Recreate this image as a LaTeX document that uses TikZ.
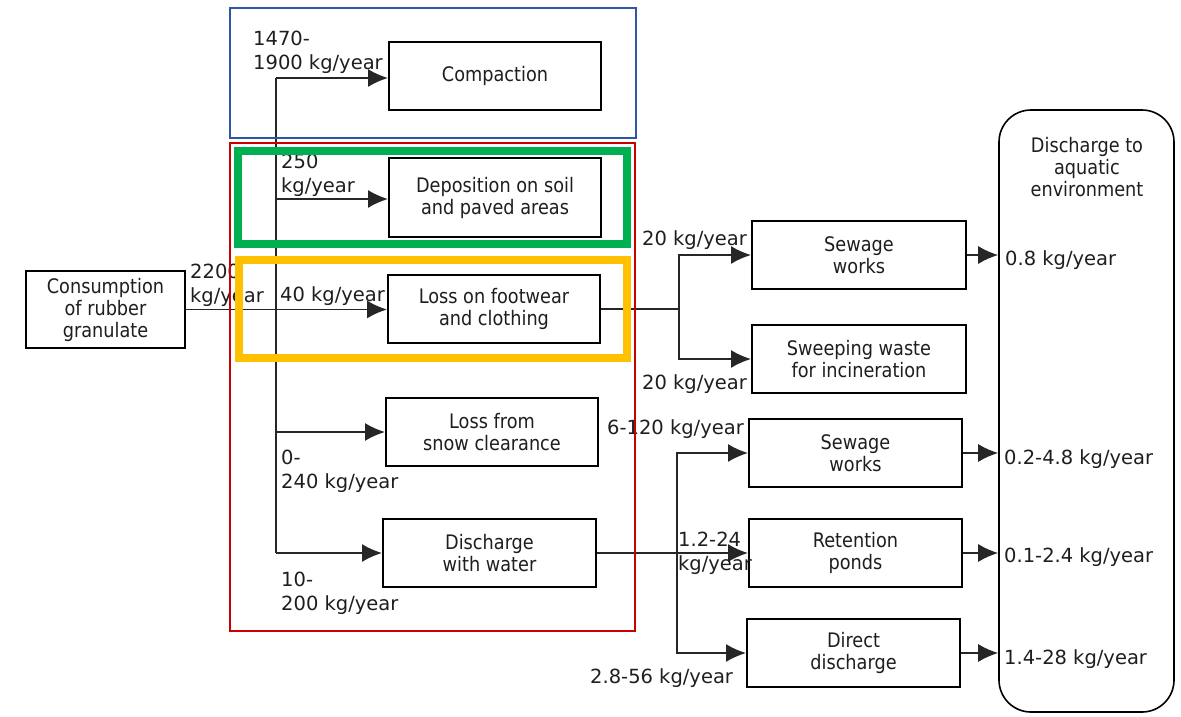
\documentclass[tikz,border=0pt]{standalone}
\usepackage{fontspec}
\setmainfont{DejaVu Sans}
\newfontfamily\bxfam{DejaVu Sans}[FakeStretch=0.885]
\usetikzlibrary{arrows.meta}
\definecolor{txt}{HTML}{1E1E1E}
\definecolor{fblue}{RGB}{47,85,165}
\definecolor{fred}{RGB}{200,0,0}
\definecolor{fgreen}{RGB}{0,176,80}
\definecolor{forange}{RGB}{255,192,0}
\newcommand\bxfont{\bxfam\fontsize{20}{22}\selectfont}
\newcommand\lbfont{\fontsize{19.5}{24}\selectfont}
\tikzset{
  box/.style={draw=black, line width=2pt, fill=white, align=center, inner sep=0pt, font=\bxfont, text=txt},
  lbl/.style={anchor=west, align=left, inner sep=0pt, font=\lbfont, text=txt},
  conn/.style={line width=1.7pt, draw=black!85},
  arr/.style={conn, -{Latex[length=20pt,width=18pt]}},
  thinframe/.style={line width=2pt},
  thickframe/.style={line width=8pt},
}
\begin{document}
\begin{tikzpicture}[x=1pt,y=-1pt]
\useasboundingbox (0,0) rectangle (1181,716);
% boxes
\node[box, minimum width=159pt, minimum height=77pt] (cons) at (105.5,309.5) {Consumption\\of rubber\\granulate};
\node[box, minimum width=212pt, minimum height=68pt] (comp) at (495,76) {Compaction};
\node[box, minimum width=212pt, minimum height=79pt] (depo) at (495,197.5) {Deposition on soil\\and paved areas};
\node[box, minimum width=212pt, minimum height=68pt] (foot) at (494,309) {Loss on footwear\\and clothing};
\node[box, minimum width=212pt, minimum height=68pt] (snow) at (492,432) {Loss from\\snow clearance};
\node[box, minimum width=213pt, minimum height=68pt] (water) at (489.5,553) {Discharge\\with water};
\node[box, minimum width=214pt, minimum height=68pt] (sew1) at (859,255) {Sewage\\works};
\node[box, minimum width=214pt, minimum height=68pt] (sweep) at (859,359) {Sweeping waste\\for incineration};
\node[box, minimum width=213pt, minimum height=68pt] (sew2) at (855.5,453) {Sewage\\works};
\node[box, minimum width=213pt, minimum height=68pt] (ret) at (855.5,553) {Retention\\ponds};
\node[box, minimum width=213pt, minimum height=68pt] (dir) at (853.5,653) {Direct\\discharge};
\node[draw=black, line width=1.6pt, rounded corners=32pt, minimum width=175pt, minimum height=602pt, inner sep=0pt] (env) at (1086.5,411) {};
\node[font=\bxfont, text=txt, align=center, inner sep=0pt] (envtxt) at (1087,167) {Discharge to\\aquatic\\environment};
% connectors
\coordinate (tTop) at (276,78);
\coordinate (tBot) at (276,553);
\draw[conn] (tTop) -- (tBot);
\draw[arr] (tTop) -- (tTop -| comp.west);
\draw[arr] (276,199) coordinate (tD) -- (tD -| depo.west);
\draw[arr] (cons.east) -- (cons.east -| foot.west);
\draw[arr] (276,432) coordinate (tS) -- (tS -| snow.west);
\draw[arr] (tBot) -- (tBot -| water.west);
\coordinate (j1) at (679,309);
\draw[conn] (foot.east) -- (j1);
\draw[arr] (j1) |- (sew1.west);
\draw[arr] (j1) |- (sweep.west);
\coordinate (j2) at (677,553);
\draw[arr] (water.east) -- (water.east -| ret.west);
\draw[arr] (j2) |- (sew2.west);
\draw[arr] (j2) |- (dir.west);
\draw[arr] (sew1.east) -- (sew1.east -| env.west);
\draw[arr] (sew2.east) -- (sew2.east -| env.west);
\draw[arr] (ret.east) -- (ret.east -| env.west);
\draw[arr] (dir.east) -- (dir.east -| env.west);
% labels
\node[lbl] (l1) at (253,52) {1470-\\1900 kg/year};
\node[lbl] (l2) at (281,175) {250\\kg/year};
\node[lbl] (l3) at (190,285) {2200\\kg/year};
\node[lbl] (l4) at (280,296) {40 kg/year};
\node[lbl] (l5) at (642,240) {20 kg/year};
\node[lbl] (l6) at (642,384) {20 kg/year};
\node[lbl] (l7) at (607,429) {6-120 kg/year};
\node[lbl] (l8) at (281,471) {0-\\240 kg/year};
\node[lbl] (l9) at (281,593) {10-\\200 kg/year};
\node[lbl] (l10) at (678,553) {1.2-24\\kg/year};
\node[lbl] (l11) at (590,678) {2.8-56 kg/year};
\node[lbl] (r1) at (1005,260) {0.8 kg/year};
\node[lbl] (r2) at (1004,459) {0.2-4.8 kg/year};
\node[lbl] (r3) at (1004,557) {0.1-2.4 kg/year};
\node[lbl] (r4) at (1004,659) {1.4-28 kg/year};
% frames
\draw[thinframe, fblue] (230,8) rectangle (636,138);
\draw[thinframe, fred] (230,143) rectangle (635,631);
\draw[thickframe, fgreen] (237.5,150.5) rectangle (626.5,243.5);
\draw[thickframe, forange] (238.5,259.5) rectangle (626.5,357.5);
\end{tikzpicture}
\end{document}
